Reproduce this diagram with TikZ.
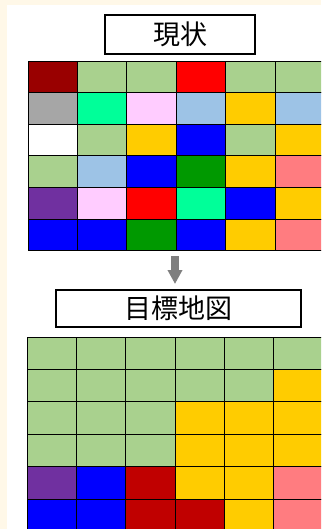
\documentclass[tikz,border=0pt]{standalone}
\usepackage{fontspec}
\newfontfamily\cjk{Noto Sans CJK JP}
\usetikzlibrary{arrows.meta}
\definecolor{bgcream}{HTML}{FFF8E8}
\definecolor{dr}{HTML}{990000}
\definecolor{lg}{HTML}{A9D18E}
\definecolor{rd}{HTML}{FF0000}
\definecolor{gy}{HTML}{A6A6A6}
\definecolor{mt}{HTML}{00FF99}
\definecolor{pk}{HTML}{FFCCFF}
\definecolor{lb}{HTML}{9DC3E6}
\definecolor{gd}{HTML}{FFCC00}
\definecolor{bl}{HTML}{0000FF}
\definecolor{gn}{HTML}{009900}
\definecolor{sa}{HTML}{FF7C80}
\definecolor{pu}{HTML}{7030A0}
\definecolor{cr}{HTML}{C00000}
\definecolor{wh}{HTML}{FFFFFF}
\definecolor{arrowgray}{HTML}{7F7F7F}
\tikzset{
  cell/.style={draw=black, line width=0.8pt},
  titlebox/.style={draw=black, line width=2pt, fill=white, inner sep=0pt,
    font=\cjk\fontsize{27}{27}\selectfont},
  bigarrow/.style={draw=arrowgray, line width=8pt,
    -{Triangle[width=14pt,length=14pt]}}
}
\begin{document}
\begin{tikzpicture}[x=1pt,y=-1pt]
\useasboundingbox (0,0) rectangle (321,529);
\clip (0,0) rectangle (321,529);
\fill[bgcream] (0,0) rectangle (321,529);
\fill[white] (7,5) rectangle (321,529);
% top grid
\foreach \row [count=\r from 0] in {{dr,lg,lg,rd,lg,lg},{gy,mt,pk,lb,gd,lb},{wh,lg,gd,bl,lg,gd},{lg,lb,bl,gn,gd,sa},{pu,pk,rd,mt,bl,gd},{bl,bl,gn,bl,gd,sa}} {
  \foreach \c [count=\k from 0] in \row {
    \path[cell, fill=\c] (28+\k*49.4, 61+\r*31.6) rectangle ++(49.4,31.6);
  }
}
% bottom grid
\foreach \row [count=\r from 0] in {{lg,lg,lg,lg,lg,lg},{lg,lg,lg,lg,lg,gd},{lg,lg,lg,gd,gd,gd},{lg,lg,lg,gd,gd,gd},{pu,bl,cr,gd,gd,sa},{bl,bl,cr,cr,gd,sa}} {
  \foreach \c [count=\k from 0] in \row {
    \path[cell, fill=\c] (27+\k*49.3, 337+\r*32.4) rectangle ++(49.3,32.4);
  }
}
\node[titlebox, minimum width=150pt, minimum height=39pt] (t1) at (180,34.5) {現状};
\node[titlebox, minimum width=245pt, minimum height=37pt] (t2) at (178.5,308.5) {目標地図};
\coordinate (g1) at (175,251);
\coordinate (g2) at (175,289);
\draw[bigarrow, shorten <=5pt, shorten >=5pt] (g1) -- (g2);
\end{tikzpicture}
\end{document}
